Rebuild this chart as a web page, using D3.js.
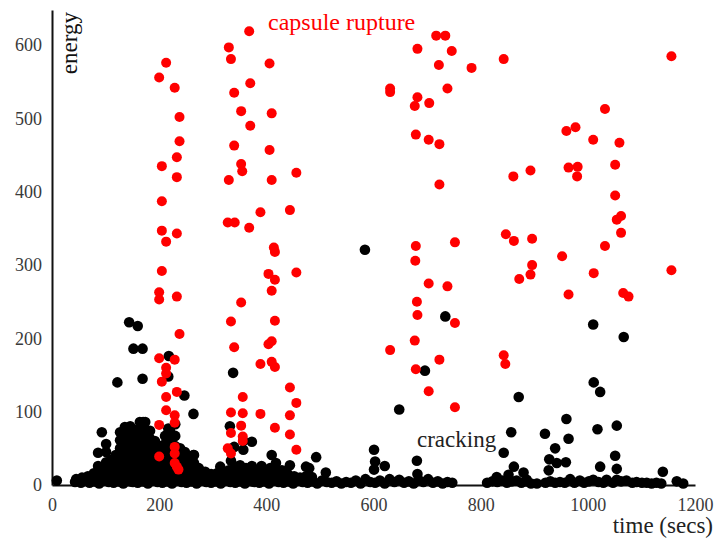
<!DOCTYPE html>
<html>
<head>
<meta charset="utf-8">
<script src="https://cdn.jsdelivr.net/npm/d3@7.9.0/dist/d3.min.js"></script>
<style>
  body { margin: 0; background: #fff; }
  svg { display: block; }
</style>
</head>
<body>
<svg id="chart" width="715" height="543"></svg>
<script>
// tick values
const xTicks = [0, 200, 400, 600, 800, 1000, 1200];
const yTicks = [0, 100, 200, 300, 400, 500, 600];

// capsule rupture events [time, energy]
const rupture = [
  [368,619],[330,597],[334,581],[406,575],[213,576],[200,556],[229,542],[370,548],[340,535],
  [353,510],[410,507],[370,490],[238,502],[238,469],[233,447],[205,435],[233,420],[340,463],
  [406,457],[353,438],[355,428],[330,416],[410,416],[456,426],[205,387],[389,372],[444,375],
  [328,358],[341,358],[368,351],[205,347],[233,343],[213,332],[414,324],[416,318],[205,292],
  [404,288],[416,280],[456,290],[200,263],[200,253],[233,257],[410,265],[353,249],[334,223],
  [416,224],[238,206],[340,188],[404,192],[410,196],[200,173],[229,171],[213,160],[213,152],
  [205,141],[389,165],[410,168],[416,161],[233,127],[213,120],[444,133],[456,112],[356,120],
  [213,102],[229,95],[229,85],[200,82],[334,99],[356,98],[389,97],[444,95],[353,81],[334,71],
  [356,66],[356,60],[416,78],[444,69],[456,48],[328,50],[334,43],[229,52],[229,43],[200,39],
  [229,30],[236,21],[233,25],
  [717,613],[734,613],[682,595],[746,592],[722,573],[783,569],[631,541],[631,536],[738,541],
  [682,529],[677,517],[704,521],[679,478],[703,471],[723,465],[723,410],[679,326],[752,331],
  [843,581],[1156,585],[1032,513],[960,483],[977,488],[1010,471],[1059,467],[861,421],[893,429],
  [964,433],[981,434],[980,421],[1051,437],[1051,395],[1054,362],[1062,367],[1062,344],[847,342],
  [862,333],[896,336],[1032,326],[678,306],[952,312],[896,300],[893,287],[872,281],[1011,289],
  [1156,293],[703,275],[738,271],[964,260],[1066,262],[1076,257],[681,250],[682,232],[752,221],
  [677,197],[631,184],[723,171],[679,158],[843,177],[846,165],[703,128],[752,106]
];

// cracking: scattered events
const crackingScattered = [
  [144,222],[160,217],[152,186],[169,186],[122,140],[169,145],[218,176],[217,148],[247,122],
  [264,97],[338,153],[332,80],[357,60],[373,59],[340,52],[357,48],[170,86],[217,77],[226,66],
  [264,41],[264,16],[314,25],[334,33],[410,41],[444,27],[493,38],[480,23],[511,17],[376,21],
  [391,26],[584,321],[734,230],[696,156],[648,103],[1010,219],[1067,202],[1011,140],[1023,127],
  [871,120],[960,90],[1054,81],[1018,76],[857,72],[920,70],[964,63],[939,50],[843,44],[601,48],
  [928,35],[942,30],[959,31],[1051,40],[603,32],[601,21],[621,26],[681,33],[862,25],[1023,25],
  [1054,22],[927,20],[1140,18],[682,15],[830,11],[852,14],[880,17],[886,7],[1166,5],[1178,2]
];

// cracking: dense early burst
const crackingCluster = [
  [9,6],[45,8],[56,10],[67,12],[78,16],[78,8],[86,44],[86,26],[86,10],[93,72],[93,20],[93,7],
  [101,56],[101,45],[101,31],[101,15],[110,34],[110,23],[110,11],[119,41],[119,30],[119,19],[119,8],
  [127,72],[127,61],[127,50],[127,40],[127,29],[127,18],[127,7],
  [136,79],[136,67],[136,56],[136,45],[136,34],[136,23],[136,12],
  [146,80],[146,69],[146,59],[146,48],[146,37],[146,26],[146,15],[146,5],
  [155,75],[155,64],[155,53],[155,42],[155,31],[155,20],[155,9],
  [164,86],[164,74],[164,63],[164,52],[164,41],[164,30],[164,19],[164,8],
  [174,86],[174,75],[174,64],[174,53],[174,42],[174,31],[174,20],[174,11],
  [183,74],[183,63],[183,52],[183,41],[183,30],[183,19],[183,8],
  [192,60],[192,49],[192,38],[192,27],[192,16],[192,7],
  [202,53],[202,42],[202,31],[202,20],[202,9],
  [211,67],[211,56],[211,45],[211,34],[211,23],[211,12],
  [220,75],[220,64],[220,53],[220,42],[220,31],[220,20],[220,9],
  [230,83],[230,67],[230,53],[230,41],[230,30],[230,19],[230,8],
  [239,50],[239,40],[239,29],[239,18],[239,7],
  [248,45],[248,34],[248,23],[248,12],[258,38],[258,27],[258,16],[258,7],
  [265,41],[265,30],[265,19],[265,8],[274,23],[274,12],[286,18],[286,8],[297,15],[297,7],
  [308,16],[308,7],[319,14],[319,5],[330,20],[330,11],[342,25],[342,15],[342,5],
  [351,27],[351,16],[351,7],[362,23],[362,12],[373,26],[373,15],[373,5],[384,20],[384,10],
  [396,18],[396,8],[407,23],[407,12],[418,30],[418,18],[418,8],[429,20],[429,10],
  [440,15],[440,7],[452,12],[463,10],[474,25],[474,12],[485,11]
];

// cracking: low-energy band along the time axis
const crackingBaseline = [
  [43,4],[54,3],[62,6],[70,3],[79,5],[88,2],[97,6],[106,4],[115,3],[124,5],[133,2],[142,6],
  [151,4],[160,3],[170,5],[179,2],[188,6],[197,4],[206,3],[215,5],[224,2],[233,6],[242,4],
  [251,3],[260,5],[270,2],[279,6],[288,4],[297,3],[306,5],[315,2],[324,6],[333,4],[342,3],
  [351,5],[360,2],[369,6],[378,4],[387,3],[396,5],[405,2],[414,6],[423,4],[432,3],[441,5],
  [450,2],[459,6],[468,4],[477,3],[486,5],[495,2],[504,6],[513,4],[522,3],[531,5],[540,2],
  [549,4],[558,3],[567,6],[576,2],[585,8],[594,4],[603,3],[612,6],[621,2],[630,8],[639,4],
  [648,7],[657,3],[666,5],[675,2],[684,7],[693,4],[702,8],[711,3],[720,5],[729,2],[738,4],
  [747,3],[812,3],[822,5],[831,4],[840,6],[849,3],[858,5],[867,6],[876,3],[885,5],[894,2],
  [905,2],[921,3],[930,5],[939,3],[948,4],[957,3],[967,8],[975,3],[985,6],[993,3],[1002,5],
  [1010,7],[1020,4],[1029,3],[1035,7],[1047,3],[1054,7],[1062,5],[1072,6],[1083,3],[1091,4],
  [1101,3],[1110,3],[1119,2],[1128,3],[1137,2]
];

const serif = '"Liberation Serif", "Times New Roman", serif';
const svg = d3.select('#chart');
const x = d3.scaleLinear().domain([0, 1200]).range([52, 695]);
const y = d3.scaleLinear().domain([0, 648]).range([485, 10]);

// axes (no tick marks, just the lines and labels)
const xAxis = svg.append('g')
  .attr('transform', 'translate(0,485)')
  .call(d3.axisBottom(x).tickValues(xTicks).tickSize(0).tickPadding(13).tickFormat(d3.format('d')));
const yAxis = svg.append('g')
  .attr('transform', 'translate(52,0)')
  .call(d3.axisLeft(y).tickValues(yTicks).tickSize(0).tickPadding(10).tickFormat(d3.format('d')));

[xAxis, yAxis].forEach(g => {
  g.attr('font-family', serif).attr('font-size', 18);
  g.select('.domain').attr('stroke', '#111').attr('stroke-width', 2);
  g.selectAll('text').attr('fill', '#3a3a3a');
});

// points: cracking first, rupture on top
const black = crackingBaseline.concat(crackingCluster, crackingScattered);
svg.append('g').selectAll('circle')
  .data(black)
  .join('circle')
  .attr('cx', d => x(d[0]))
  .attr('cy', d => y(d[1]))
  .attr('r', 5.3)
  .attr('fill', '#000');

svg.append('g').selectAll('circle')
  .data(rupture)
  .join('circle')
  .attr('cx', d => x(d[0]))
  .attr('cy', d => y(d[1]))
  .attr('r', 5)
  .attr('fill', '#ff0000');

// labels
const labels = svg.append('g').attr('font-family', serif);

labels.append('text')
  .attr('transform', 'translate(77,12) rotate(-90)')
  .attr('text-anchor', 'end')
  .attr('font-size', 23)
  .attr('fill', '#111')
  .text('energy');

labels.append('text')
  .attr('x', 268).attr('y', 30)
  .attr('font-size', 24)
  .attr('fill', '#ff0000')
  .text('capsule rupture');

labels.append('text')
  .attr('x', 417).attr('y', 447)
  .attr('font-size', 23)
  .attr('fill', '#222')
  .text('cracking');

labels.append('text')
  .attr('x', 713).attr('y', 533)
  .attr('text-anchor', 'end')
  .attr('font-size', 23)
  .attr('fill', '#222')
  .text('time (secs)');
</script>
</body>
</html>
